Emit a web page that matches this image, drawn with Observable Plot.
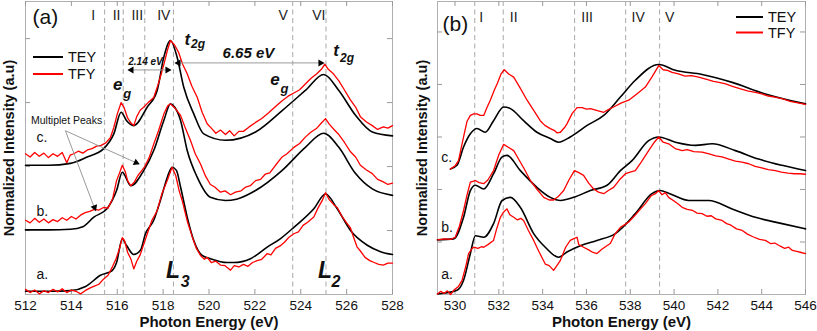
<!DOCTYPE html>
<html><head><meta charset="utf-8">
<script src="https://cdn.jsdelivr.net/npm/d3@7"></script>
<script src="https://cdn.jsdelivr.net/npm/@observablehq/plot@0.6"></script>
<style>
body{margin:0;background:#fff;}
#wrap{display:flex;width:817px;height:331px;overflow:hidden;}
#wrap svg{display:block;flex:none;}
</style>
</head><body><div id="wrap"></div>
<script>
// ---------- Panel (a): L-edge ----------
const xTicksA = [512,514,516,518,520,522,524,526,528];
const yTicksA = [1,2,3,4];
const dashA = [515.45,516.26,517.2,518.45,523.65,525.1];
const romanA = ["I","II","III","IV","V","VI"];
const romanAx = [514.95,515.97,516.87,518.03,523.23,524.79];
const sampleLabels = ["a.","b.","c."];
const sampleYA = [0.31,1.30,2.45];

const teyA_a = [[512.0,0.05],[513.09,0.05],[513.96,0.06],[514.62,0.125],[515.27,0.30],[515.78,0.375],[515.97,0.5],[516.22,0.87],[516.4,0.77],[516.72,0.625],[517.01,0.69],[517.23,0.95],[517.59,1.16],[517.88,1.47],[518.18,1.83],[518.39,1.99],[518.58,1.94],[518.76,1.68],[519.05,1.21],[519.34,0.84],[519.7,0.61],[520.06,0.56],[520.79,0.50],[521.07,0.50],[521.81,0.56],[522.54,0.74],[523.12,0.875],[523.7,1.05],[524.57,1.34],[525.08,1.57],[525.59,1.34],[526.17,1.0],[526.9,0.77],[527.48,0.67],[528.0,0.625]];
const tfyA_a = [[512.0,0.08],[512.2,0.03],[512.4,0.07],[512.6,0.01],[512.8,0.06],[513.0,0.03],[513.2,0.08],[513.4,0.04],[513.6,0.09],[513.8,0.03],[514.0,0.07],[514.2,0.05],[514.4,0.01],[514.6,0.06],[514.8,0.1],[515.0,0.13],[515.2,0.16],[515.4,0.24],[515.6,0.3],[515.8,0.44],[515.95,0.56],[516.1,0.72],[516.22,0.89],[516.32,0.84],[516.45,0.66],[516.6,0.55],[516.72,0.4],[516.85,0.52],[517.0,0.62],[517.15,0.78],[517.31,0.95],[517.5,1.15],[517.74,1.31],[517.95,1.58],[518.18,1.78],[518.39,1.99],[518.55,1.86],[518.7,1.62],[518.83,1.47],[519.05,1.15],[519.27,0.9],[519.45,0.72],[519.63,0.61],[519.8,0.55],[519.92,0.58],[520.1,0.5],[520.3,0.52],[520.5,0.46],[520.7,0.45],[520.94,0.38],[521.1,0.45],[521.3,0.43],[521.5,0.47],[521.7,0.44],[521.9,0.5],[522.1,0.53],[522.3,0.55],[522.54,0.64],[522.7,0.62],[522.9,0.72],[523.1,0.76],[523.3,0.82],[523.5,0.9],[523.7,0.95],[523.9,0.98],[524.1,1.08],[524.3,1.13],[524.57,1.21],[524.75,1.35],[524.95,1.48],[525.08,1.59],[525.25,1.48],[525.45,1.4],[525.59,1.36],[525.8,1.22],[526.0,1.12],[526.17,1.04],[526.3,0.9],[526.46,0.74],[526.6,0.68],[526.8,0.58],[527.01,0.53],[527.2,0.5],[527.4,0.47],[527.6,0.46],[527.8,0.49],[528.0,0.49]];
const teyA_b = [[512.0,1.01],[513.0,1.01],[513.96,1.02],[514.5,1.06],[514.98,1.21],[515.55,1.34],[515.97,1.625],[516.22,1.91],[516.59,1.70],[517.16,1.94],[517.59,2.25],[518.03,2.72],[518.32,2.98],[518.5,2.93],[518.76,2.72],[519.05,2.25],[519.49,1.83],[520.06,1.52],[520.72,1.47],[521.2,1.49],[522.03,1.625],[523.19,1.94],[524.2,2.30],[525.0,2.52],[525.66,2.30],[526.39,1.89],[527.12,1.65],[528.0,1.55]];
const tfyA_b = [[512.0,1.16],[512.2,1.12],[512.4,1.19],[512.6,1.13],[512.8,1.18],[513.0,1.12],[513.2,1.17],[513.4,1.14],[513.6,1.2],[513.8,1.16],[514.0,1.22],[514.2,1.18],[514.4,1.24],[514.6,1.28],[514.8,1.3],[515.0,1.33],[515.2,1.32],[515.4,1.36],[515.6,1.35],[515.8,1.5],[515.97,1.78],[516.1,1.9],[516.22,2.02],[516.35,1.92],[516.45,1.78],[516.59,1.7],[516.75,1.76],[516.9,1.86],[517.05,1.93],[517.2,2.0],[517.4,2.15],[517.59,2.35],[517.8,2.56],[518.03,2.82],[518.2,2.95],[518.32,2.98],[518.5,2.92],[518.76,2.8],[518.95,2.62],[519.19,2.41],[519.4,2.2],[519.63,2.04],[519.85,1.85],[520.06,1.72],[520.25,1.68],[520.5,1.6],[520.7,1.62],[520.94,1.56],[521.15,1.6],[521.4,1.62],[521.6,1.68],[521.8,1.7],[522.03,1.78],[522.25,1.8],[522.45,1.88],[522.65,1.9],[522.9,2.02],[523.19,2.15],[523.4,2.2],[523.7,2.3],[523.95,2.36],[524.2,2.46],[524.45,2.54],[524.7,2.6],[524.9,2.68],[525.08,2.75],[525.25,2.66],[525.45,2.58],[525.66,2.5],[525.9,2.38],[526.15,2.24],[526.39,2.15],[526.6,2.02],[526.85,1.95],[527.12,1.89],[527.35,1.8],[527.6,1.76],[527.8,1.72],[528.0,1.74]];
const teyA_c = [[512.0,2.02],[513.0,2.02],[513.96,2.05],[514.69,2.15],[515.41,2.28],[515.85,2.51],[516.17,2.85],[516.4,2.72],[516.72,2.64],[517.31,2.93],[517.74,3.19],[518.03,3.71],[518.32,3.97],[518.61,3.71],[518.9,3.24],[519.34,2.82],[519.77,2.51],[520.72,2.41],[522.03,2.54],[523.19,2.875],[524.2,3.19],[525.0,3.44],[525.66,3.19],[526.39,2.80],[527.12,2.54],[528.0,2.48]];
const tfyA_c = [[512.0,2.2],[512.2,2.15],[512.4,2.22],[512.6,2.16],[512.8,2.21],[513.0,2.14],[513.2,2.2],[513.4,2.16],[513.6,2.22],[513.8,2.06],[513.95,2.18],[514.1,2.2],[514.3,2.24],[514.5,2.21],[514.7,2.26],[514.9,2.28],[515.1,2.32],[515.3,2.33],[515.5,2.37],[515.7,2.45],[515.85,2.61],[516.0,2.82],[516.17,3.0],[516.3,2.92],[516.45,2.76],[516.6,2.68],[516.72,2.64],[516.85,2.78],[517.0,2.88],[517.16,2.93],[517.35,3.0],[517.59,3.08],[517.75,3.25],[517.88,3.4],[518.05,3.62],[518.18,3.81],[518.32,3.97],[518.5,3.9],[518.68,3.78],[518.85,3.6],[519.05,3.45],[519.25,3.26],[519.49,3.08],[519.7,2.85],[519.92,2.67],[520.1,2.6],[520.3,2.52],[520.5,2.57],[520.72,2.5],[520.9,2.56],[521.1,2.48],[521.3,2.55],[521.5,2.55],[521.75,2.62],[522.03,2.69],[522.3,2.75],[522.6,2.84],[522.9,2.94],[523.19,3.03],[523.45,3.1],[523.7,3.15],[523.95,3.2],[524.2,3.29],[524.45,3.38],[524.7,3.45],[524.9,3.52],[525.05,3.6],[525.2,3.52],[525.4,3.46],[525.66,3.34],[525.9,3.2],[526.15,3.05],[526.39,2.93],[526.6,2.78],[526.85,2.7],[527.12,2.64],[527.35,2.58],[527.6,2.62],[527.8,2.6],[528.0,2.64]];

// annotations of panel (a)
const annTextA = ["e","g","t","2g","e","g","t","2g","6.65 eV","2.14 eV"];
const annEA    = [516.02,516.43,519.06,519.52,522.88,523.29,525.54,526.02,521.72,517.23];
const annVA    = [3.28,3.13,3.98,3.92,3.36,3.22,3.81,3.70,3.77,3.63];
const annSizeA = [17,13,17,12,17,13,17,12,15,10];
const edgeText = ["L","3","L","2"];
const edgeE = [518.43,518.96,525.06,525.54];
const edgeV = [0.375,0.20,0.375,0.20];
const edgeSize = [23,16,23,16];
const multipletText = "Multiplet Peaks";
const multipletAt = [513.79,2.72];
const arrowsA = [
  {x1:516.49,y1:3.51,x2:518.32,y2:3.51},
  {x1:518.54,y1:3.62,x2:524.99,y2:3.62},
  {x1:513.74,y1:2.56,x2:515.05,y2:1.31},
  {x1:513.74,y1:2.56,x2:516.94,y2:2.04}
];
const headsA = [
  {e:516.62,v:3.51,r:-90},{e:518.19,v:3.51,r:90},
  {e:518.67,v:3.62,r:-90},{e:524.86,v:3.62,r:90},
  {e:515.01,v:1.36,r:159},{e:516.82,v:2.06,r:114}
];

// ---------- Panel (b): O K-edge ----------
const xTicksB = [530,532,534,536,538,540,542,544,546];
const yTicksB = [1,2,3,4,5];
const dashB = [530.9,532.2,535.46,537.79,539.34];
const romanB = ["I","II","III","IV","V"];
const romanBx = [531.2,532.68,536.03,538.36,539.8];
const sampleYB = [0.38,1.28,2.61];

const teyB_a = [[529.2,0.01],[530.09,0.08],[530.39,0.27],[530.7,0.78],[530.93,1.12],[531.31,1.09],[531.76,1.35],[532.15,1.79],[532.53,1.85],[532.98,1.66],[533.59,1.16],[534.12,0.90],[534.73,0.71],[535.11,0.81],[535.72,0.93],[536.48,1.03],[537.32,1.16],[538.23,1.54],[538.99,1.92],[539.37,1.98],[539.75,1.93],[540.67,1.79],[541.58,1.79],[542.65,1.63],[543.71,1.47],[544.93,1.35],[546.0,1.25]];
const tfyB_a = [[529.2,0.01],[529.35,0.06],[529.5,0.02],[529.65,0.07],[529.8,0.0],[529.94,0.08],[530.15,0.15],[530.32,0.27],[530.5,0.55],[530.62,0.78],[530.75,0.86],[530.85,0.9],[531.05,0.88],[531.2,0.91],[531.31,0.9],[531.5,0.95],[531.76,1.03],[531.9,1.25],[532.07,1.47],[532.2,1.56],[532.37,1.63],[532.5,1.52],[532.68,1.47],[532.85,1.42],[533.0,1.45],[533.13,1.41],[533.35,1.22],[533.59,1.03],[533.85,0.8],[534.12,0.58],[534.3,0.55],[534.5,0.46],[534.65,0.55],[534.81,0.65],[535.05,0.9],[535.26,1.03],[535.4,1.06],[535.57,1.09],[535.65,0.95],[535.87,0.9],[536.1,0.85],[536.3,0.8],[536.48,0.78],[536.7,0.86],[536.9,0.92],[537.09,0.97],[537.3,1.15],[537.55,1.28],[537.75,1.33],[537.93,1.38],[538.2,1.5],[538.45,1.62],[538.69,1.73],[538.95,1.88],[539.15,1.92],[539.3,1.98],[539.45,1.9],[539.6,1.94],[539.75,1.85],[540.0,1.78],[540.2,1.72],[540.37,1.66],[540.6,1.62],[540.85,1.6],[541.05,1.55],[541.28,1.54],[541.5,1.49],[541.7,1.5],[541.9,1.44],[542.19,1.41],[542.4,1.35],[542.6,1.32],[542.85,1.25],[543.11,1.22],[543.35,1.15],[543.6,1.1],[543.9,1.05],[544.17,1.03],[544.4,0.97],[544.6,0.98],[544.85,0.92],[545.05,0.88],[545.23,0.9],[545.4,0.84],[545.6,0.82],[545.8,0.8],[546.0,0.78]];
const teyB_b = [[529.2,1.04],[529.94,1.06],[530.39,1.47],[530.7,1.98],[530.93,2.08],[531.31,2.01],[531.76,2.30],[532.15,2.62],[532.37,2.65],[532.98,2.36],[533.74,2.04],[534.35,1.85],[534.81,1.79],[535.42,1.85],[536.18,1.98],[536.94,2.08],[537.55,2.36],[538.08,2.55],[538.84,2.93],[539.3,3.0],[540.06,2.90],[540.97,2.84],[541.74,2.87],[542.8,2.74],[543.86,2.58],[544.93,2.46],[546.0,2.36]];
const tfyB_b = [[529.2,1.04],[529.5,1.06],[529.8,1.05],[530.01,1.09],[530.2,1.3],[530.39,1.6],[530.55,1.9],[530.7,2.14],[530.93,2.17],[531.1,2.13],[531.31,2.11],[531.5,2.18],[531.76,2.36],[532.0,2.66],[532.22,2.86],[532.45,2.8],[532.68,2.74],[532.9,2.58],[533.15,2.4],[533.44,2.17],[533.75,2.0],[534.05,1.85],[534.3,1.8],[534.5,1.8],[534.7,1.86],[534.96,1.98],[535.2,2.18],[535.45,2.36],[535.65,2.32],[535.87,2.27],[536.1,2.12],[536.33,2.01],[536.55,1.95],[536.79,1.92],[537.0,1.98],[537.24,2.04],[537.5,2.18],[537.78,2.3],[538.0,2.33],[538.23,2.36],[538.5,2.52],[538.84,2.74],[539.1,2.9],[539.3,3.0],[539.5,2.9],[539.75,2.87],[540.05,2.78],[540.37,2.74],[540.6,2.76],[540.9,2.72],[541.28,2.71],[541.6,2.68],[541.9,2.64],[542.19,2.62],[542.5,2.58],[542.8,2.54],[543.1,2.52],[543.41,2.49],[543.7,2.44],[544.0,2.41],[544.3,2.38],[544.63,2.36],[544.9,2.33],[545.2,2.31],[545.5,2.3],[545.75,2.3],[546.0,2.29]];
const teyB_c = [[529.79,2.39],[530.09,2.46],[530.39,2.81],[530.7,3.06],[531.0,3.16],[531.38,3.09],[531.76,3.31],[532.22,3.57],[532.53,3.54],[533.13,3.31],[533.74,3.09],[534.35,2.97],[534.73,2.90],[535.26,3.0],[536.03,3.22],[536.79,3.41],[537.55,3.76],[538.23,4.08],[539.3,4.38],[540.06,4.27],[541.28,4.19],[542.65,4.04],[544.17,3.82],[546.0,3.63]];
const tfyB_c = [[529.79,2.39],[530.0,2.45],[530.16,2.55],[530.39,3.0],[530.55,3.3],[530.7,3.41],[530.85,3.44],[531.0,3.44],[531.15,3.41],[531.31,3.41],[531.45,3.55],[531.61,3.7],[531.8,3.9],[531.92,4.01],[532.1,4.2],[532.25,4.28],[532.45,4.2],[532.68,4.14],[532.95,3.95],[533.29,3.7],[533.6,3.5],[533.89,3.31],[534.1,3.22],[534.35,3.16],[534.55,3.12],[534.65,3.08],[534.81,3.09],[535.0,3.18],[535.11,3.25],[535.35,3.45],[535.57,3.56],[535.8,3.56],[536.0,3.53],[536.18,3.54],[536.5,3.5],[536.79,3.47],[537.0,3.52],[537.24,3.57],[537.6,3.65],[537.93,3.7],[538.3,3.82],[538.69,3.95],[539.0,4.15],[539.3,4.36],[539.5,4.28],[539.7,4.27],[539.91,4.23],[540.2,4.2],[540.5,4.16],[540.8,4.17],[541.12,4.14],[541.45,4.1],[541.8,4.06],[542.05,4.04],[542.35,4.01],[542.7,3.96],[543.0,3.92],[543.35,3.88],[543.71,3.85],[544.0,3.82],[544.3,3.78],[544.6,3.76],[544.93,3.73],[545.3,3.68],[545.65,3.65],[546.0,3.62]];

const seriesNames = ["TEY","TFY"];
const seriesColors = ["#000000","#ff0000"];
const xLabel = "Photon Energy (eV)";
const yLabel = "Normalized Intensity (a.u)";

const font = "'Liberation Sans', Arial, Helvetica, sans-serif";

function curveMarks(tey, tfy) {
  const marks = [];
  tey.forEach(arr => marks.push(Plot.line(arr, {x: d => d[0], y: d => d[1], stroke: seriesColors[0], strokeWidth: 1.6, curve: "monotone-x"})));
  tfy.forEach(arr => marks.push(Plot.line(arr, {x: d => d[0], y: d => d[1], stroke: seriesColors[1], strokeWidth: 1.3})));
  return marks;
}

function frameMarks(xTicks, yTicks, dashes, fw, fh) {
  return [
    Plot.ruleX(dashes, {stroke: "#a8a8a8", strokeDasharray: "5,3.5", strokeWidth: 1}),
    Plot.frame({stroke: "#b0b0b0"}),
    Plot.ruleX(xTicks, {stroke: "#999", insetTop: fh - 5}),
    Plot.ruleX(xTicks, {stroke: "#999", insetBottom: fh - 5}),
    Plot.ruleY(yTicks, {stroke: "#999", insetRight: fw - 5}),
    Plot.ruleY(yTicks, {stroke: "#999", insetLeft: fw - 5}),
    Plot.axisX({ticks: xTicks, tickSize: 0, tickPadding: 6, label: null, fontSize: 13.5}),
    Plot.text([xLabel], {frameAnchor: "bottom", dy: 28, lineAnchor: "middle", textAnchor: "middle", fontWeight: "bold", fontSize: 15})
  ];
}

function addLegend(svg, x0, x1, xt, ys) {
  const g = d3.select(svg).append("g").attr("font-family", font).attr("font-size", 14.5).attr("text-anchor", "start");
  seriesNames.forEach((name, i) => {
    g.append("line").attr("x1", x0).attr("x2", x1).attr("y1", ys[i]).attr("y2", ys[i])
      .attr("stroke", seriesColors[i]).attr("stroke-width", 2);
    g.append("text").attr("x", xt).attr("y", ys[i]).attr("dy", "0.35em").attr("text-anchor", "start").attr("fill", "#111").text(name);
  });
}

// ---------- build panel (a) ----------
const WA = 408, HA = 331, mlA = 25, mrA = 16, mt = 1, mb = 37;
const fwA = WA - mlA - mrA, fh = HA - mt - mb;
const plotA = Plot.plot({
  width: WA, height: HA, marginLeft: mlA, marginRight: mrA, marginTop: mt, marginBottom: mb,
  style: {fontFamily: font, fontSize: "13.5px", color: "#111", background: "#fff"},
  x: {domain: [512, 528]},
  y: {domain: [0, 4.58], axis: null},
  marks: [
    ...frameMarks(xTicksA, yTicksA, dashA, fwA, fh),
    Plot.text([yLabel], {frameAnchor: "left", rotate: -90, dx: -16.5, textAnchor: "middle", lineAnchor: "middle", fontWeight: "bold", fontSize: 14.5}),
    Plot.text(romanA, {x: (d, i) => romanAx[i], frameAnchor: "top", dy: 14, lineAnchor: "middle", fontSize: 14, fill: "#222"}),
    Plot.text(["(a)"], {frameAnchor: "top-left", dx: 7, dy: 16, textAnchor: "start", lineAnchor: "middle", fontSize: 21}),
    ...curveMarks([teyA_a, teyA_b, teyA_c], [tfyA_a, tfyA_b, tfyA_c]),
    Plot.text(sampleLabels, {x: 512.48, y: (d, i) => sampleYA[i], textAnchor: "start", fontSize: 14}),
    Plot.link(arrowsA, {x1: "x1", y1: "y1", x2: "x2", y2: "y2", stroke: "#9a9a9a", strokeWidth: 1}),
    Plot.dot(headsA, {x: "e", y: "v", rotate: "r", symbol: "triangle", r: 2.6, fill: "#000", stroke: null}),
    Plot.text(annTextA, {x: (d, i) => annEA[i], y: (d, i) => annVA[i], fontSize: (d, i) => annSizeA[i], fontWeight: "bold", fontStyle: "italic"}),
    Plot.text(edgeText, {x: (d, i) => edgeE[i], y: (d, i) => edgeV[i], fontSize: (d, i) => edgeSize[i], fontWeight: "bold", fontStyle: "italic"}),
    Plot.text([multipletText], {x: multipletAt[0], y: multipletAt[1], fontSize: 10.5})
  ]
});
addLegend(plotA, 33, 63, 68, [57, 74]);

// ---------- build panel (b) ----------
const WB = 409, mlB = 29, mrB = 12;
const fwB = WB - mlB - mrB;
const plotB = Plot.plot({
  width: WB, height: HA, marginLeft: mlB, marginRight: mrB, marginTop: mt, marginBottom: mb,
  style: {fontFamily: font, fontSize: "13.5px", color: "#111", background: "#fff"},
  x: {domain: [529.2, 546]},
  y: {domain: [0, 5.58], axis: null},
  marks: [
    ...frameMarks(xTicksB, yTicksB, dashB, fwB, fh),
    Plot.text([yLabel], {frameAnchor: "left", rotate: -90, dx: -15.5, textAnchor: "middle", lineAnchor: "middle", fontWeight: "bold", fontSize: 14.5}),
    Plot.text(romanB, {x: (d, i) => romanBx[i], frameAnchor: "top", dy: 16, lineAnchor: "middle", fontSize: 14, fill: "#222"}),
    Plot.text(["(b)"], {frameAnchor: "top-left", dx: 5, dy: 23, textAnchor: "start", lineAnchor: "middle", fontSize: 21}),
    ...curveMarks([teyB_a, teyB_b, teyB_c], [tfyB_a, tfyB_b, tfyB_c]),
    Plot.text(sampleLabels, {x: 529.37, y: (d, i) => sampleYB[i], textAnchor: "start", fontSize: 14})
  ]
});
addLegend(plotB, 328, 355, 360, [17, 32.5]);

document.getElementById("wrap").append(plotA, plotB);
</script>
</body></html>
